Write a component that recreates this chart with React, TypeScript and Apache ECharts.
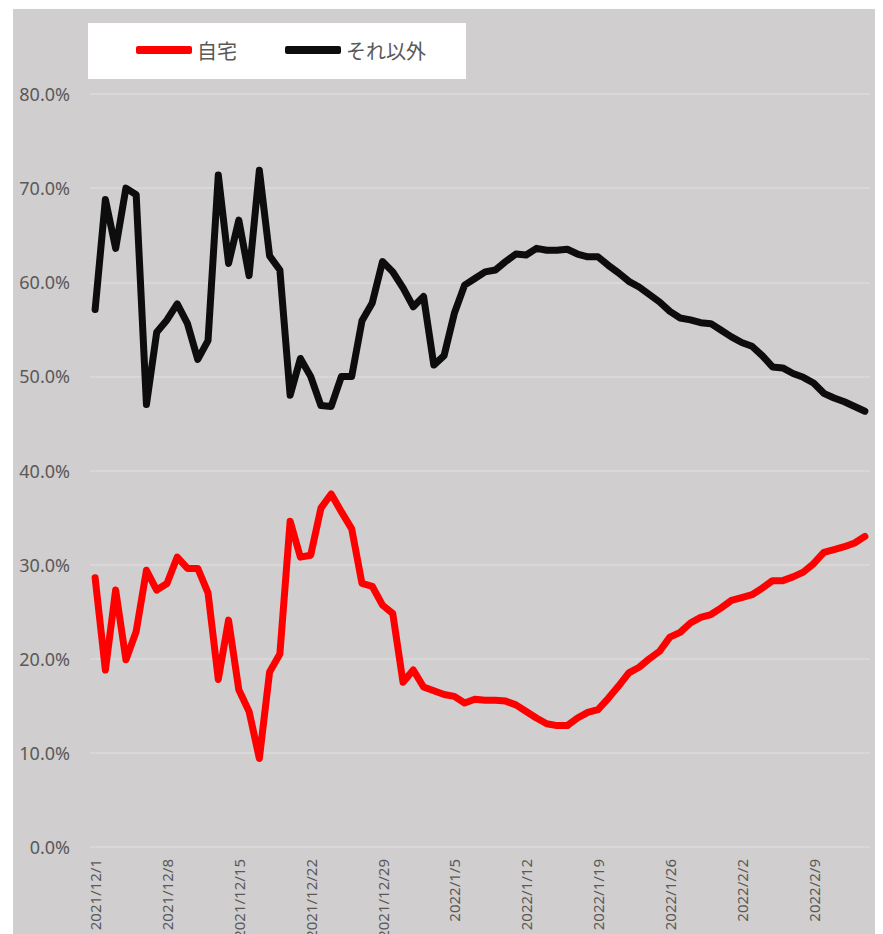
import React, { useEffect, useRef } from "react";
import * as echarts from "echarts";

const startDate = { y: 2021, m: 12, d: 1 };
const dayCount = 76;

const homeValues = [
  28.6, 18.8, 27.3, 19.9, 22.9, 29.4, 27.3, 28.0, 30.8, 29.6,
  29.6, 27.0, 17.8, 24.1, 16.7, 14.4, 9.4, 18.6, 20.5, 34.6,
  30.8, 31.0, 36.0, 37.5, 35.6, 33.8, 28.0, 27.7, 25.7, 24.8,
  17.5, 18.8, 17.0, 16.6, 16.2, 16.0, 15.3, 15.7, 15.6, 15.6,
  15.5, 15.1, 14.4, 13.7, 13.1, 12.9, 12.9, 13.7, 14.3, 14.6,
  15.8, 17.1, 18.5, 19.1, 20.0, 20.8, 22.3, 22.8, 23.8, 24.4,
  24.7, 25.4, 26.2, 26.5, 26.8, 27.5, 28.3, 28.3, 28.7, 29.2,
  30.1, 31.3, 31.6, 31.9, 32.3, 33.0,
];

const otherValues = [
  57.1, 68.8, 63.6, 70.0, 69.3, 47.0, 54.7, 56.0, 57.7, 55.6,
  51.8, 53.8, 71.4, 62.0, 66.6, 60.7, 71.9, 62.8, 61.3, 48.0,
  51.9, 50.0, 46.9, 46.8, 50.0, 50.0, 55.9, 57.8, 62.2, 61.1,
  59.4, 57.4, 58.5, 51.2, 52.2, 56.7, 59.7, 60.4, 61.1, 61.3,
  62.2, 63.0, 62.9, 63.6, 63.4, 63.4, 63.5, 63.0, 62.7, 62.7,
  61.8, 61.0, 60.1, 59.5, 58.7, 57.9, 56.9, 56.2, 56.0, 55.7,
  55.6, 54.9, 54.2, 53.6, 53.2, 52.2, 51.0, 50.9, 50.3, 49.9,
  49.3, 48.2, 47.7, 47.3, 46.8, 46.3,
];

const seriesNames = ["自宅", "それ以外"];
const yTicks = { min: 0, max: 80, interval: 10 };

function buildDates(): string[] {
  const out: string[] = [];
  const base = new Date(startDate.y, startDate.m - 1, startDate.d);
  for (let i = 0; i < dayCount; i++) {
    const dt = new Date(base.getTime());
    dt.setDate(base.getDate() + i);
    out.push(`${dt.getFullYear()}/${dt.getMonth() + 1}/${dt.getDate()}`);
  }
  return out;
}

const categories = buildDates();

export default function App() {
  const ref = useRef<HTMLDivElement>(null);
  useEffect(() => {
    if (!ref.current) return;
    const chart = echarts.init(ref.current, undefined, { renderer: "svg" });
    const font = "'Noto Sans', 'Noto Sans CJK JP', sans-serif";
    chart.setOption({
      animation: false,
      backgroundColor: "#d0cece",
      textStyle: { fontFamily: font },
      legend: {
        left: 75,
        top: 14,
        backgroundColor: "#ffffff",
        padding: [17, 40, 19, 48],
        itemWidth: 56,
        itemHeight: 8,
        itemGap: 48,
        icon: "roundRect",
        textStyle: { fontSize: 20, color: "#595959", fontFamily: "'Noto Sans CJK JP', sans-serif" },
        data: seriesNames,
      },
      grid: {
        left: 77,
        right: 13,
        top: 85,
        bottom: 87,
        containLabel: false,
        outerBoundsMode: "none",
      },
      xAxis: {
        type: "category",
        boundaryGap: true,
        data: categories,
        axisLine: { show: false },
        axisTick: { show: false },
        axisLabel: {
          interval: 6,
          rotate: 90,
          margin: 12,
          fontSize: 15,
          color: "#595959",
          fontFamily: font,
        },
        splitLine: { show: false },
      },
      yAxis: {
        type: "value",
        min: yTicks.min,
        max: yTicks.max,
        interval: yTicks.interval,
        axisLine: { show: false },
        axisTick: { show: false },
        axisLabel: {
          formatter: (v: number) => v.toFixed(1) + "%",
          fontSize: 18,
          color: "#595959",
          margin: 20,
          fontFamily: font,
        },
        splitLine: { lineStyle: { color: "#dcdada", width: 1.5 } },
      },
      series: [
        {
          name: seriesNames[0],
          type: "line",
          data: homeValues,
          showSymbol: false,
          symbol: "none",
          itemStyle: { color: "#ff0000" },
          lineStyle: { color: "#ff0000", width: 7, cap: "round", join: "round" },
        },
        {
          name: seriesNames[1],
          type: "line",
          data: otherValues,
          showSymbol: false,
          symbol: "none",
          itemStyle: { color: "#0d0d0d" },
          lineStyle: { color: "#0d0d0d", width: 7, cap: "round", join: "round" },
        },
      ],
    });
    return () => chart.dispose();
  }, []);
  return (
    <div
      ref={ref}
      style={{ width: 870, height: 925, marginLeft: 5, marginTop: 1 }}
    />
  );
}
